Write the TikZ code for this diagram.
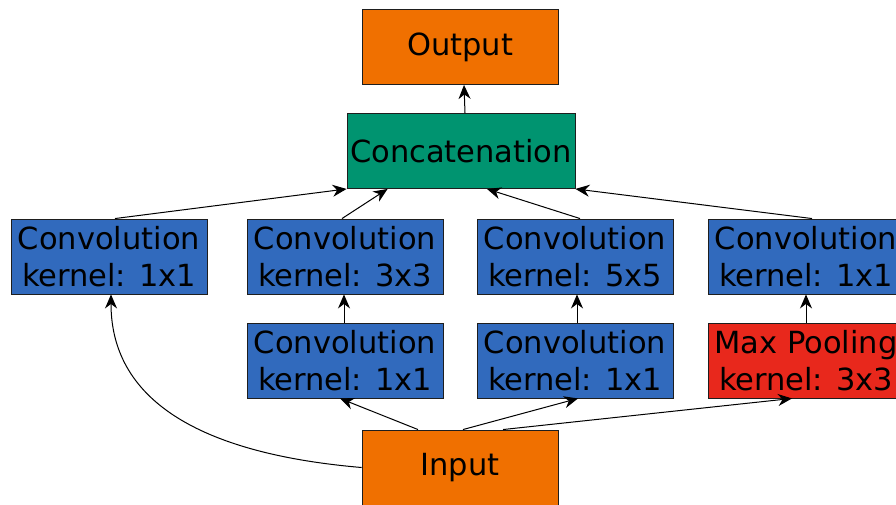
\documentclass[tikz,border=0pt]{standalone}
\usepackage{fontspec}
\setmainfont{DejaVu Sans}
\usetikzlibrary{arrows.meta}
\definecolor{ioorange}{RGB}{240,112,0}
\definecolor{catgreen}{RGB}{0,148,112}
\definecolor{convblue}{RGB}{49,106,189}
\definecolor{poolred}{RGB}{232,40,28}
\definecolor{edge}{RGB}{30,30,30}
\begin{document}
\begin{tikzpicture}[x=1pt,y=-1pt,
  block/.style={draw=edge,line width=0.9pt,minimum width=196pt,minimum height=75pt,
    inner sep=2pt,align=center,font=\fontsize{30.5}{37}\selectfont},
  iobox/.style={block,fill=ioorange},
  catbox/.style={block,fill=catgreen,minimum width=228pt},
  convbox/.style={block,fill=convblue},
  poolbox/.style={block,fill=poolred},
  link/.style={draw=black,line width=1pt,-{Stealth[length=14pt,width=12pt,inset=4.5pt]}}]
\useasboundingbox (0,0) rectangle (896,505);

% blocks
\node[iobox]   (out) at (460,47)    {Output};
\node[catbox]  (cat) at (461,151)   {Concatenation};
\node[convbox] (ca)  at (109,256.5) {Convolution\\kernel: 1x1};
\node[convbox] (cb)  at (345,256.5) {Convolution\\kernel: 3x3};
\node[convbox] (cc)  at (575,256.5) {Convolution\\kernel: 5x5};
\node[convbox] (cd)  at (806,256.5) {Convolution\\kernel: 1x1};
\node[convbox] (rb)  at (345,360.5) {Convolution\\kernel: 1x1};
\node[convbox] (rc)  at (575,360.5) {Convolution\\kernel: 1x1};
\node[poolbox] (mp)  at (806,360.5) {Max Pooling\\kernel: 3x3};
\node[iobox]   (in)  at (460,467.5) {Input};

% connectors into the concatenation and the output
\draw[link] ([xshift=4pt]cat.north) -- ([xshift=4pt]out.south);
\draw[link] ([xshift=6pt]ca.north) -- (cat.south west);
\draw[link] ([xshift=-3pt]cb.north) -- ([xshift=41pt]cat.south west);
\draw[link] ([xshift=5pt]cc.north) -- ([xshift=26pt]cat.south);
\draw[link] ([xshift=6pt]cd.north) -- (cat.south east);

% second-row blocks feeding the first row
\draw[link] ([xshift=-1pt]rb.north) -- ([xshift=-1pt]cb.south);
\draw[link] ([xshift=2pt]rc.north) -- ([xshift=2pt]cc.south);
\draw[link] (mp.north) -- (cd.south);

% branches leaving the input
\draw[link] (in.west) .. controls +(-152,-13) and +(0,111) .. ([xshift=2pt]ca.south);
\draw[link] ([xshift=-42pt]in.north) -- ([xshift=-5pt]rb.south);
\draw[link] ([xshift=3pt]in.north) -- ([xshift=3pt]rc.south);
\draw[link] ([xshift=43pt]in.north) -- ([xshift=-14pt]mp.south);
\end{tikzpicture}
\end{document}
